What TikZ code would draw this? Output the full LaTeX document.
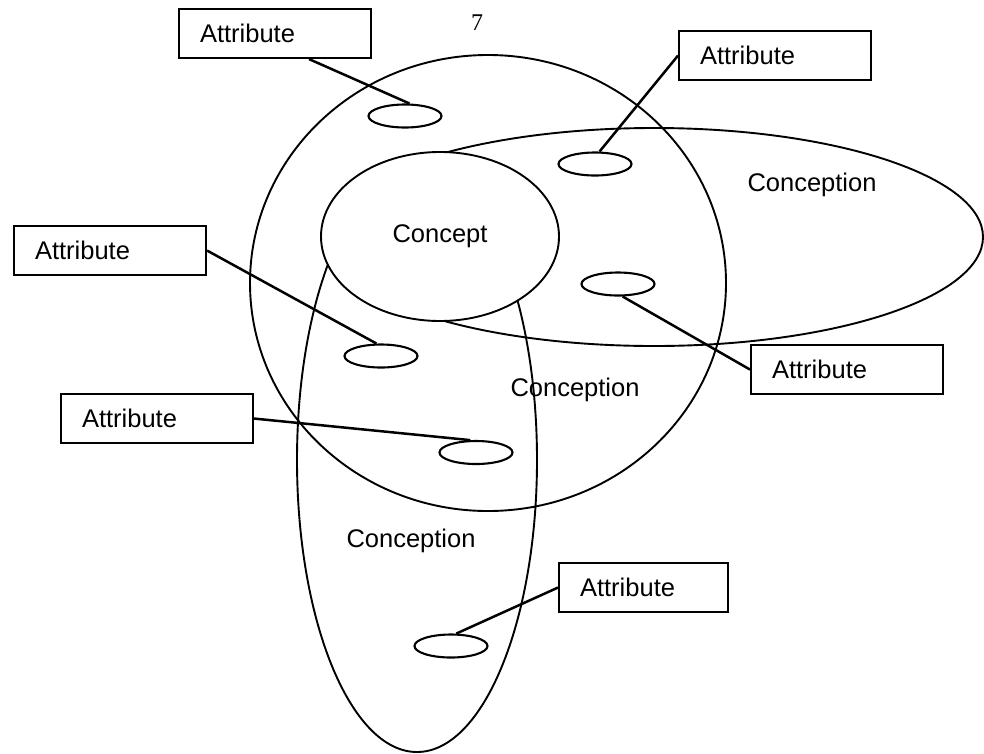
\documentclass[tikz,border=0pt]{standalone}
\usepackage{fontspec}
\setmainfont{Liberation Sans}
\newfontfamily\pagenumfont{Liberation Serif}
\usetikzlibrary{shapes.geometric}
\begin{document}
\begin{tikzpicture}[x=1pt,y=-1pt,
  lw/.style={line width=2.1pt},
  bigshape/.style={ellipse, draw, line width=1.9pt, inner sep=0pt},
  attrell/.style={ellipse, draw, lw, fill=white, minimum width=73pt, minimum height=23pt, inner sep=0pt},
  attrbox/.style={rectangle, draw, lw, fill=white, anchor=north west, minimum height=49pt, text width=150pt, align=left, inner xsep=21pt, inner ysep=0pt, font=\fontsize{25.5}{30}\selectfont},
  link/.style={line width=2.5pt},
  lbl/.style={font=\fontsize{25.5}{30}\selectfont, inner sep=0pt}]
\useasboundingbox (0,0) rectangle (984,753);
% large shapes
\node[bigshape, minimum width=476pt, minimum height=456pt] (circ) at (488,283) {};
\node[bigshape, minimum width=658pt, minimum height=218pt] (horiz) at (654,237) {};
\node[bigshape, minimum width=240pt, minimum height=584pt] (vert) at (417,460) {};
\node[bigshape, fill=white, minimum width=238pt, minimum height=169pt, font=\fontsize{25.5}{30}\selectfont] (concept) at (440,236.5) {Concept};
% small attribute ellipses
\node[attrell] (e1) at (405,116) {};
\node[attrell] (e2) at (595,164) {};
\node[attrell] (e3) at (381,356) {};
\node[attrell] (e4) at (476,452.5) {};
\node[attrell] (e5) at (618,284) {};
\node[attrell] (e6) at (451,646) {};
% attribute boxes
\node[attrbox] (a1) at (178,8) {Attribute};
\node[attrbox] (a2) at (678,30) {Attribute};
\node[attrbox] (a3) at (13,225) {Attribute};
\node[attrbox] (a4) at (60,393) {Attribute};
\node[attrbox] (a5) at (750,344) {Attribute};
\node[attrbox, text width=127pt] (a6) at (558,562) {Attribute};
% connectors
\draw[link] ([xshift=34pt]a1.south) -- (e1.70);
\draw[link] (a2.west) -- (e2.70);
\draw[link] (a3.east) -- (e3.110);
\draw[link] (a4.east) -- (e4.115);
\draw[link] (a5.west) -- (e5.-70);
\draw[link] (a6.west) -- (e6.67);
% labels
\node[lbl] (lh) at (812,185) {Conception};
\node[lbl] (lm) at (575,390) {Conception};
\node[lbl] (lv) at (411,541) {Conception};
\node[font=\pagenumfont\fontsize{24}{26}\selectfont, inner sep=0pt] (pg) at (477,23) {7};
\end{tikzpicture}
\end{document}
